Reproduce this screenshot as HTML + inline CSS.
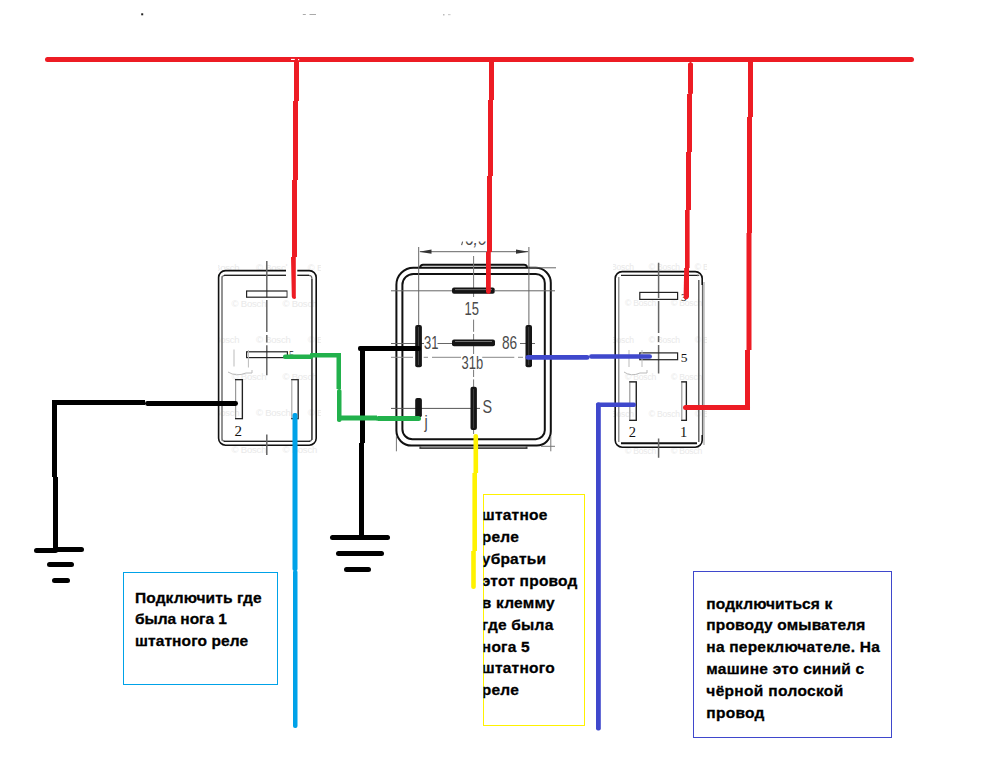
<!DOCTYPE html>
<html>
<head>
<meta charset="utf-8">
<style>
html,body{margin:0;padding:0;background:#fff;width:996px;height:778px;overflow:hidden;}
svg{display:block;position:absolute;left:0;top:0;}
.t{font-family:"Liberation Sans",sans-serif;font-weight:bold;font-size:15.5px;fill:#000;stroke:#000;stroke-width:0.3px;}
.lbl{font-family:"Liberation Sans",sans-serif;fill:#4a4a4a;}
.ser{font-family:"Liberation Serif",serif;fill:#111;}
.wm{font-family:"Liberation Sans",sans-serif;fill:#e9e9e9;font-size:9.5px;letter-spacing:-0.2px;}
</style>
</head>
<body>
<svg width="996" height="778" viewBox="0 0 996 778">
<defs>
<clipPath id="c1"><rect x="124" y="573" width="153" height="111"/></clipPath>
<clipPath id="c2"><rect x="483.5" y="495" width="101" height="230"/></clipPath>
</defs>
<rect x="0" y="0" width="996" height="778" fill="#fff"/>

<defs><clipPath id="wl"><rect x="218" y="257" width="103" height="200"/></clipPath><clipPath id="wr"><rect x="613" y="258" width="94" height="202"/></clipPath></defs>
<g clip-path="url(#wl)" class="wm">
<text x="204.8" y="270.5">© Bosch</text>
<text x="255.9" y="270.5">© Bosch</text>
<text x="307.8" y="270.5">© Bosch</text>
<text x="180.6" y="306.9">© Bosch</text>
<text x="231.6" y="306.9">© Bosch</text>
<text x="282.4" y="306.9">© Bosch</text>
<text x="204.8" y="343.3">© Bosch</text>
<text x="255.9" y="343.3">© Bosch</text>
<text x="307.8" y="343.3">© Bosch</text>
<text x="180.6" y="379.7">© Bosch</text>
<text x="231.6" y="379.7">© Bosch</text>
<text x="282.4" y="379.7">© Bosch</text>
<text x="204.8" y="416.1">© Bosch</text>
<text x="255.9" y="416.1">© Bosch</text>
<text x="307.8" y="416.1">© Bosch</text>
<text x="180.6" y="452.5">© Bosch</text>
<text x="231.6" y="452.5">© Bosch</text>
<text x="282.4" y="452.5">© Bosch</text>
</g>
<g clip-path="url(#wr)" class="wm">
<text x="602.7" y="269.6" transform="translate(602.7 0) scale(0.9 1) translate(-602.7 0)">© Bosch</text>
<text x="648.7" y="269.6" transform="translate(648.7 0) scale(0.9 1) translate(-648.7 0)">© Bosch</text>
<text x="694.7" y="269.6" transform="translate(694.7 0) scale(0.9 1) translate(-694.7 0)">© Bosch</text>
<text x="579.0" y="306.4" transform="translate(579.0 0) scale(0.9 1) translate(-579.0 0)">© Bosch</text>
<text x="625.0" y="306.4" transform="translate(625.0 0) scale(0.9 1) translate(-625.0 0)">© Bosch</text>
<text x="671.0" y="306.4" transform="translate(671.0 0) scale(0.9 1) translate(-671.0 0)">© Bosch</text>
<text x="602.7" y="343.2" transform="translate(602.7 0) scale(0.9 1) translate(-602.7 0)">© Bosch</text>
<text x="648.7" y="343.2" transform="translate(648.7 0) scale(0.9 1) translate(-648.7 0)">© Bosch</text>
<text x="694.7" y="343.2" transform="translate(694.7 0) scale(0.9 1) translate(-694.7 0)">© Bosch</text>
<text x="579.0" y="380.0" transform="translate(579.0 0) scale(0.9 1) translate(-579.0 0)">© Bosch</text>
<text x="625.0" y="380.0" transform="translate(625.0 0) scale(0.9 1) translate(-625.0 0)">© Bosch</text>
<text x="671.0" y="380.0" transform="translate(671.0 0) scale(0.9 1) translate(-671.0 0)">© Bosch</text>
<text x="602.7" y="416.8" transform="translate(602.7 0) scale(0.9 1) translate(-602.7 0)">© Bosch</text>
<text x="648.7" y="416.8" transform="translate(648.7 0) scale(0.9 1) translate(-648.7 0)">© Bosch</text>
<text x="694.7" y="416.8" transform="translate(694.7 0) scale(0.9 1) translate(-694.7 0)">© Bosch</text>
<text x="579.0" y="453.6" transform="translate(579.0 0) scale(0.9 1) translate(-579.0 0)">© Bosch</text>
<text x="625.0" y="453.6" transform="translate(625.0 0) scale(0.9 1) translate(-625.0 0)">© Bosch</text>
<text x="671.0" y="453.6" transform="translate(671.0 0) scale(0.9 1) translate(-671.0 0)">© Bosch</text>
</g>
<rect x="141.2" y="13.3" width="2" height="2" fill="#222"/>
<rect x="302.8" y="14" width="3" height="1" fill="#aaa"/>
<rect x="309.5" y="14" width="6.5" height="1" fill="#aaa"/>
<rect x="443" y="14" width="1.5" height="1.5" fill="#bbb"/>
<rect x="448" y="14" width="2.5" height="1.2" fill="#ccc"/>
<!-- ===== LEFT RELAY ===== -->
<g id="relayL">
<g fill="none" stroke-linecap="butt">
<rect x="218.6" y="270.6" width="97.6" height="174.6" rx="7" stroke="#111" stroke-width="1.6"/>
<rect x="222" y="275.3" width="89.9" height="166" rx="3" stroke="#666" stroke-width="1.2"/>
<path d="M222,276 V441" stroke="#888" stroke-width="1.2"/>
<path d="M311.9,279 V440" stroke="#444" stroke-width="1.4"/>
<path d="M224,275.3 H309" stroke="#222" stroke-width="1.2"/>
<path d="M224,441.3 H310" stroke="#222" stroke-width="1.3"/>
<!-- center line -->
<path d="M266.8,261 V297.5 M266.8,300 V332 M266.8,335 V342.5 M266.8,345.2 V375.3 M266.8,434.5 V455" stroke="#666" stroke-width="1.5"/>
<!-- pins -->
<rect x="246.6" y="291" width="40.6" height="6.2" stroke="#222" stroke-width="1.2"/>
<rect x="246.6" y="351.8" width="40.8" height="5.8" stroke="#222" stroke-width="1.2"/>
<rect x="235.6" y="379.6" width="6.8" height="39" stroke="#999" stroke-width="1.2"/>
<path d="M235,379.6 H242.4 V418.6 H235" stroke="#222" stroke-width="1.3"/>
<rect x="291.8" y="379.6" width="6.4" height="39" stroke="#aaa" stroke-width="1.2"/>
<path d="M291.2,379.6 H298.2 V418.6 H291.2" stroke="#333" stroke-width="1.3"/>
<!-- faint artifact -->
<path d="M234,349.5 V366.5 M248.4,350 V367.5 M228,372 Q236,377 246,373 H252 V370" stroke="#bbb" stroke-width="1"/>
</g>
<text class="ser" x="234.6" y="435.5" font-size="15">2</text>
<text class="ser" x="289" y="358" font-size="10">5</text>
</g>

<!-- ===== MIDDLE RELAY ===== -->
<g id="relayM">
<g fill="none">
<!-- outer body -->
<path d="M413.4,267.8 H535.8 A15,15 0 0 1 550.8,282.8 V431.6 A14,14 0 0 1 536.8,445.6 H411.4 A15,15 0 0 1 396.4,430.6 V284.8 A17,17 0 0 1 413.4,267.8 Z" stroke="#111" stroke-width="2"/>
<!-- inner body -->
<path d="M413.4,273.9 H535.8 A9,9 0 0 1 544.8,282.9 V430.2 A9,9 0 0 1 535.8,439.2 H412.4 A10,10 0 0 1 402.4,429.2 V284.9 A11,11 0 0 1 413.4,273.9 Z" stroke="#111" stroke-width="2"/>
<!-- lid lines -->
<path d="M420,267.5 Q420.5,264.8 423,264.8 H524 Q526.6,264.8 527,267" stroke="#111" stroke-width="2"/>
<path d="M420.3,446.5 V448.2 H526.6 V446.5" stroke="#444" stroke-width="1.8"/>
<!-- dimension lines -->
<path d="M418.7,247 V325 M528.9,247 V325 M420,251.7 H528" stroke="#666" stroke-width="1"/>
<path d="M419,251.7 L431.5,249.6 L431.5,253.8 Z M528.6,251.7 L516,249.6 L516,253.8 Z" fill="#333" stroke="none"/>
<!-- center / extension lines -->
<path d="M391,290.8 H452 M494.7,290.8 H555 M530,267.8 H556" stroke="#666" stroke-width="1"/>
<path d="M473.6,256 V297 M473.6,319.6 V331.8 M473.6,334 V354 M473.6,369.7 V377 M473.6,379.4 V387 M473.6,429 V434" stroke="#777" stroke-width="1"/>
<path d="M391,343.5 H424 M437.5,343.5 H452 M520,343.5 H535" stroke="#666" stroke-width="1"/>
<path d="M391,357.3 H413 M423.7,357.3 H428 M432,357.3 H461 M482.2,357.3 H514.3 M518,357.3 H523" stroke="#888" stroke-width="1"/>
<path d="M391,408.4 H480" stroke="#555" stroke-width="1"/>
<path d="M396.4,436 V451.3 M550.8,436 V451.3 M541,446.3 H555" stroke="#777" stroke-width="1"/>
</g>
<!-- pins -->
<g fill="#151515">
<rect x="452" y="287.6" width="42.7" height="6.2" rx="2"/>
<rect x="452" y="339.5" width="43" height="6.8" rx="2"/>
<rect x="415.2" y="324.9" width="6.7" height="42.4" rx="2"/>
<rect x="525.5" y="325" width="6.5" height="42.3" rx="2"/>
<rect x="470.5" y="386.8" width="6.4" height="43.1" rx="2"/>
<rect x="415.2" y="398" width="6.7" height="19.3" rx="2"/>
</g>
<path d="M455,341.5 H492 M455,289.6 H492" stroke="#888" stroke-width="0.8" fill="none"/>
<path d="M418.5,327 V365 M528.7,327 V365 M473.6,389 V428" stroke="#555" stroke-width="0.7" fill="none"/>
<g class="lbl">
<text x="464.6" y="315" font-size="18" transform="translate(464.6 0) scale(0.72 1) translate(-464.6 0)">15</text>
<text x="424" y="349" font-size="18" transform="translate(424 0) scale(0.72 1) translate(-424 0)">31</text>
<text x="502" y="349" font-size="18" transform="translate(502 0) scale(0.76 1) translate(-502 0)">86</text>
<text x="461.6" y="369.5" font-size="18" transform="translate(461.6 0) scale(0.72 1) translate(-461.6 0)">31b</text>
<text x="482.6" y="413.2" font-size="18" transform="translate(482.6 0) scale(0.8 1) translate(-482.6 0)">S</text>
<text x="424.5" y="428.5" font-size="18" transform="translate(424.5 0) scale(0.8 1) translate(-424.5 0)">j</text>
<text x="465" y="245.3" font-size="18" font-style="italic" transform="translate(465 0) scale(0.86 1) translate(-465 0)">6,0</text>
</g>
<rect x="440" y="220" width="48" height="21.5" fill="#fff"/>
<path d="M461.6,245.2 L462.6,241.6" stroke="#555" stroke-width="1.1"/>
</g>

<!-- ===== RIGHT RELAY ===== -->
<g id="relayR">
<g fill="none">
<path d="M702.2,285 V278.6 A7,7 0 0 0 695.2,271.6 H622.2 A7,7 0 0 0 615.2,278.6 V440.2 A7,7 0 0 0 622.2,447.2 H695.2 A7,7 0 0 0 702.2,440.2 V435" stroke="#111" stroke-width="1.6"/>
<path d="M702.6,285 V435" stroke="#666" stroke-width="1.4"/>
<path d="M618.8,277 V442" stroke="#777" stroke-width="1.2"/>
<path d="M698.8,276 Q698.8,275.3 697,275.3 M698.8,280 V442" stroke="#555" stroke-width="1.4"/>
<path d="M704,282 V445" stroke="#aaa" stroke-width="1.2"/>
<path d="M621,275.3 H697" stroke="#222" stroke-width="1.2"/>
<path d="M621,443.3 H697" stroke="#111" stroke-width="2"/>
<path d="M658.6,262.7 V298 M658.6,301 V333 M658.6,336 V342 M658.6,345 V373.5 M658.6,438.4 V457.7" stroke="#666" stroke-width="1.5"/>
<rect x="639.8" y="292.4" width="37.8" height="7" stroke="#222" stroke-width="1.2"/>
<rect x="639.8" y="352.9" width="37.8" height="6.8" stroke="#222" stroke-width="1.2"/>
<rect x="629.8" y="381.8" width="6.5" height="38.5" stroke="#999" stroke-width="1.2"/>
<path d="M629.2,381.8 H636.3 V420.3 H629.2" stroke="#222" stroke-width="1.3"/>
<rect x="681.8" y="381.8" width="4.6" height="38.5" stroke="#999" stroke-width="1.2"/>
<path d="M681.2,381.8 H686.4 V420.3 H681.2" stroke="#222" stroke-width="1.3"/>
<path d="M629,350 V367 M642,350 V367 M624,372 Q631,377 640,373 H647 V370" stroke="#bbb" stroke-width="1"/>
</g>
<text class="ser" x="680.8" y="361.6" font-size="13.5">5</text>
<text class="ser" x="681" y="300.5" font-size="11">3</text>
<text class="ser" x="628.8" y="437" font-size="14.5">2</text>
<text class="ser" x="680" y="437" font-size="14.5">1</text>
</g>

<rect x="286" y="266" width="11.3" height="12" fill="#fff"/>
<rect x="287.6" y="289" width="4" height="10" fill="#fff"/>
<!-- ===== WIRES ===== -->
<g id="wires">
<!-- red -->
<g fill="#ED1C24">
<rect x="45" y="57" width="869" height="5" rx="2.5"/>
<!-- V1 -->
<rect x="294" y="59" width="5" height="42"/>
<rect x="293" y="101" width="5" height="79"/>
<rect x="292" y="180" width="5" height="77"/>
<path d="M291,257 H295.8 V296.6 Q296.6,299 294.2,299 Q291.8,299 291.8,296.6 Z"/>
<!-- V2 -->
<rect x="489" y="59" width="5" height="41"/>
<rect x="488" y="100" width="5" height="76"/>
<rect x="487" y="176" width="5" height="76"/>
<path d="M486,252 H490.8 V291.6 Q490.8,294 488.4,294 Q486,294 486,291.6 Z"/>
<!-- V3 -->
<rect x="688" y="63" width="5" height="31" rx="1"/>
<rect x="689.5" y="61" width="2" height="3"/>
<rect x="687" y="94" width="5" height="58"/>
<rect x="686" y="152" width="5" height="58"/>
<rect x="685" y="210" width="4.6" height="58"/>
<path d="M684.2,268 H689 V297.1 Q688.4,299.5 686.0,299.5 Q683.6,299.5 683.6,297.1 Z"/>
<!-- V4 -->
<rect x="748" y="59" width="5" height="58"/>
<rect x="747" y="117" width="5" height="116"/>
<rect x="746.5" y="233" width="5" height="117"/>
<rect x="745" y="350" width="5" height="60"/>
<rect x="683" y="405" width="67" height="5" rx="2.5"/>
</g>
<rect x="291" y="58.9" width="3.8" height="1.1" fill="#fff"/>
<rect x="298" y="59" width="1.2" height="1.2" fill="#fff"/>
<!-- black -->
<g fill="#000">
<rect x="52" y="400" width="93" height="5"/>
<rect x="145" y="401" width="93" height="5" rx="2.4"/>
<rect x="52" y="400" width="5" height="77"/>
<rect x="53" y="477" width="5" height="75"/>
<rect x="34" y="548" width="24" height="5" rx="2.5"/>
<rect x="55" y="547" width="29" height="5" rx="2.5"/>
<rect x="47" y="562" width="27" height="5" rx="2.5"/>
<rect x="52" y="578" width="18" height="5" rx="2.5"/>

<rect x="358" y="346" width="63" height="5" rx="2"/>
<rect x="360" y="346" width="5" height="97"/>
<rect x="359" y="443" width="5" height="94"/>
<rect x="330" y="535" width="60" height="5" rx="2.5"/>
<rect x="336" y="551" width="48" height="5" rx="2.5"/>
<rect x="344" y="567" width="27" height="5" rx="2.5"/>
</g>
<!-- green -->
<g fill="#22B14C">
<rect x="283" y="354.5" width="30" height="4.5" rx="2"/>
<rect x="310" y="353" width="31" height="4.5" rx="1"/>
<rect x="336.5" y="353" width="4.5" height="36"/>
<rect x="337" y="389" width="4.5" height="33" rx="2"/>
<rect x="337" y="415.5" width="40" height="5"/>
<rect x="376" y="416" width="45" height="5" rx="2.5"/>
</g>
<!-- light blue -->
<g fill="#00A2E8">
<rect x="292.5" y="413" width="5" height="158" rx="2"/>
<rect x="293" y="570" width="4.5" height="158" rx="2"/>
</g>
<!-- yellow -->
<g fill="#FFF200">
<path d="M473.5,436 Q473.5,434 475.8,434 Q478.1,434 478.1,436 V473 H473.5 Z"/>
<rect x="472.4" y="473" width="4.6" height="78"/>
<path d="M471.2,551 H475.8 V587 Q475.8,589 473.5,589 Q471.2,589 471.2,587 Z"/>
</g>
<!-- indigo -->
<g fill="#3F48CC">
<rect x="525.5" y="355" width="64" height="4.8" rx="2.4"/>
<rect x="589" y="354.2" width="63" height="4.6" rx="2.3"/>
<rect x="596" y="402.5" width="40" height="4.5" rx="2"/>
<rect x="596" y="402.5" width="4.8" height="328" rx="2"/>
</g>
</g>

<!-- ===== TEXT BOXES ===== -->
<g id="boxes">
<rect x="123.5" y="572.5" width="154" height="112" fill="none" stroke="#00A2E8" stroke-width="1"/>
<rect x="483.5" y="494.5" width="101" height="231" fill="none" stroke="#FFF200" stroke-width="1"/>
<rect x="693.5" y="571.5" width="198" height="166" fill="none" stroke="#3F48CC" stroke-width="1"/>
<g clip-path="url(#c1)">
<text class="t" x="135" y="602.70" letter-spacing="0.12">Подключить где</text>
<text class="t" x="135" y="624.40" letter-spacing="-0.05">была нога 1</text>
<text class="t" x="135" y="646.10" letter-spacing="0.10">штатного реле</text>
</g>
<g clip-path="url(#c2)">
<text class="t" x="481.8" y="519.80" letter-spacing="0.22">штатное</text>
<text class="t" x="481.8" y="541.75" letter-spacing="0.22">реле</text>
<text class="t" x="481.8" y="563.70" letter-spacing="0.22">убратьи</text>
<text class="t" x="481.8" y="585.65" letter-spacing="0.22">этот провод</text>
<text class="t" x="481.8" y="607.60" letter-spacing="0.22">в клемму</text>
<text class="t" x="481.8" y="629.55" letter-spacing="0.22">где была</text>
<text class="t" x="481.8" y="651.50" letter-spacing="0.22">нога 5</text>
<text class="t" x="481.8" y="673.45" letter-spacing="0.22">штатного</text>
<text class="t" x="481.8" y="695.40" letter-spacing="0.22">реле</text>
</g>
<text class="t" x="706.3" y="608.60" letter-spacing="0.12">подключиться к</text>
<text class="t" x="706.3" y="630.40" letter-spacing="0.14">проводу омывателя</text>
<text class="t" x="706.3" y="652.20" letter-spacing="0.22">на переключателе. На</text>
<text class="t" x="706.3" y="674.00" letter-spacing="0.25">машине это синий с</text>
<text class="t" x="706.3" y="695.80" letter-spacing="0.33">чёрной полоской</text>
<text class="t" x="706.3" y="717.60" letter-spacing="0.28">провод</text>
</g>
</svg>
</body>
</html>
